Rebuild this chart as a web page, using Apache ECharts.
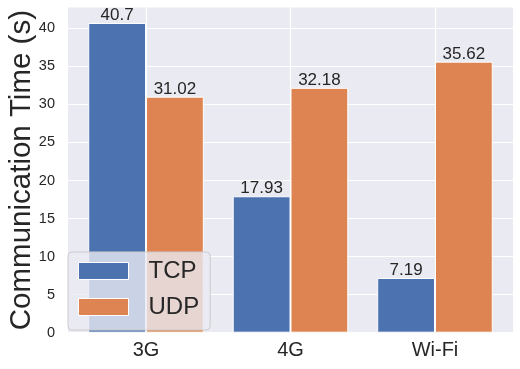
<!DOCTYPE html>
<html>
<head>
<meta charset="utf-8">
<script src="https://cdn.jsdelivr.net/npm/echarts@6/dist/echarts.min.js"></script>
<style>
  html, body { margin: 0; padding: 0; background: #fff; }
  #chart { width: 520px; height: 369px; }
</style>
</head>
<body>
<div id="chart"></div>
<script>
var categories = ['3G', '4G', 'Wi-Fi'];
var tcpTimes = [40.7, 17.93, 7.19];
var udpTimes = [31.02, 32.18, 35.62];
var yTicks = [0, 5, 10, 15, 20, 25, 30, 35, 40];
var xTicks = [0, 1, 2];

var font = "'Liberation Sans', Arial, sans-serif";
var textColor = '#262626';

function toPoints(values) {
    return values.map(function (v, i) { return [i, v]; });
}

var chart = echarts.init(document.getElementById('chart'));

var barLabel = {
    show: true,
    position: 'top',
    distance: -1,
    fontSize: 17,
    fontFamily: font,
    color: textColor,
    formatter: function (p) { return p.value[1]; }
};

var option = {
    animation: false,
    textStyle: { fontFamily: font },
    grid: {
        left: 68,
        right: 7,
        top: 7.5,
        bottom: 36.3,
        outerBoundsMode: 'none',
        containLabel: false,
        show: true,
        backgroundColor: '#EAEAF2',
        borderWidth: 0
    },
    legend: {
        orient: 'vertical',
        left: 68,
        top: 252,
        icon: 'rect',
        itemWidth: 50,
        itemHeight: 17,
        itemGap: 12,
        padding: [7, 11, 11, 10],
        backgroundColor: 'rgba(234,234,242,0.8)',
        borderColor: '#cccccc',
        borderWidth: 1,
        borderRadius: 4,
        itemStyle: { borderColor: '#ffffff', borderWidth: 1 },
        textStyle: {
            fontSize: 24,
            fontFamily: font,
            color: textColor,
            padding: [0, 0, 0, 15]
        },
        data: ['TCP', 'UDP']
    },
    xAxis: {
        type: 'value',
        min: -0.54,
        max: 2.54,
        axisLine: { show: false },
        axisTick: { show: false, customValues: xTicks },
        axisLabel: {
            customValues: xTicks,
            margin: 8,
            fontSize: 20,
            color: textColor,
            fontFamily: font,
            formatter: function (v) { return categories[Math.round(v)]; }
        },
        splitLine: { show: true, lineStyle: { color: '#ffffff', width: 1.2 } }
    },
    yAxis: {
        type: 'value',
        min: 0,
        max: 42.735,
        name: 'Communication Time (s)',
        nameLocation: 'middle',
        nameMoveOverlap: false,
        nameGap: 31,
        nameTextStyle: { fontSize: 29.5, color: textColor, fontFamily: font },
        axisLine: { show: false },
        axisTick: { show: false, customValues: yTicks },
        axisLabel: {
            customValues: yTicks,
            margin: 13,
            fontSize: 14.5,
            color: textColor,
            fontFamily: font
        },
        splitLine: { show: true, lineStyle: { color: '#ffffff', width: 1.2 } }
    },
    series: [
        {
            name: 'TCP',
            type: 'bar',
            barWidth: '40%',
            barGap: '0%',
            data: toPoints(tcpTimes),
            itemStyle: { color: '#4C72B0', borderColor: '#ffffff', borderWidth: 1 },
            label: barLabel
        },
        {
            name: 'UDP',
            type: 'bar',
            barWidth: '40%',
            barGap: '0%',
            data: toPoints(udpTimes),
            itemStyle: { color: '#DD8452', borderColor: '#ffffff', borderWidth: 1 },
            label: barLabel
        }
    ]
};

chart.setOption(option);
</script>
</body>
</html>
